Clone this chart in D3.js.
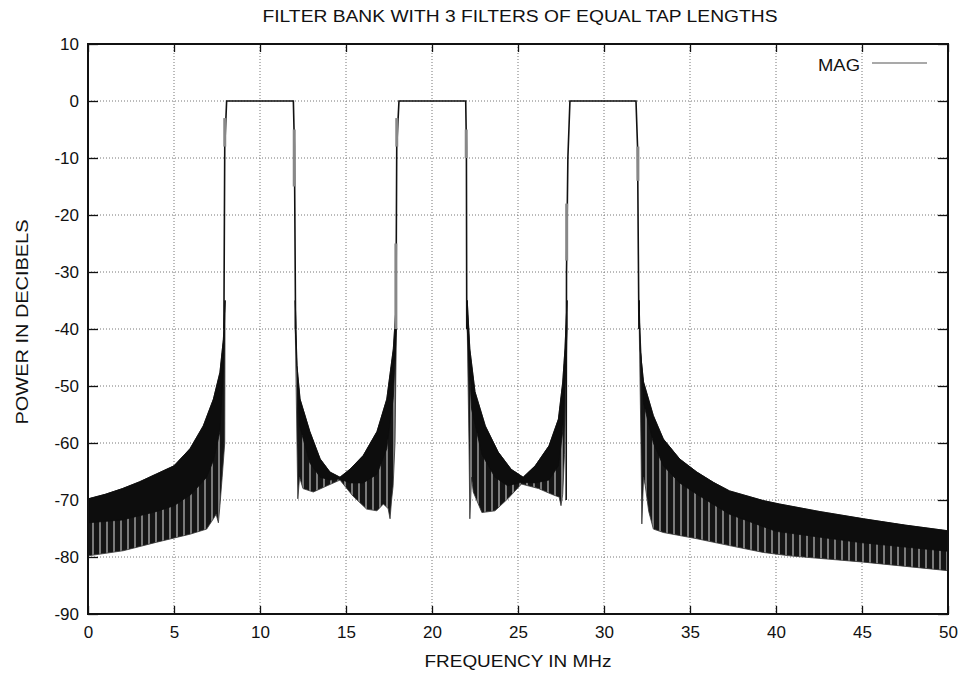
<!DOCTYPE html>
<html>
<head>
<meta charset="utf-8">
<script src="https://cdn.jsdelivr.net/npm/d3@7"></script>
<style>
  body { margin: 0; background: #fff; }
  text { font-family: "Liberation Sans", Arial, sans-serif; fill: #111; }
</style>
</head>
<body>
<div id="chart"></div>
<script>
// axis ticks
var xTicks = [0, 5, 10, 15, 20, 25, 30, 35, 40, 45, 50];
var yTicks = [-90, -80, -70, -60, -50, -40, -30, -20, -10, 0, 10];

// passband of each filter (freq MHz / dB)
var pass1F = [7.9, 7.95, 8.06, 11.94, 12.0, 12.07];
var pass1D = [-40, -8, 0, 0, -8, -40];
var pass2F = [17.9, 17.95, 18.08, 21.96, 22.0, 22.02];
var pass2D = [-40, -8, 0, 0, -8, -40];
var pass3F = [27.8, 27.82, 27.9, 28.02, 31.86, 31.95, 32.03];
var pass3D = [-70, -30, -10, 0, 0, -8, -40];

// blurred (rippling) pieces of the transition edges: freq, top dB, bottom dB
var blurF = [7.95, 11.99, 17.95, 17.9, 21.99, 27.83, 31.97];
var blurTop = [-3, -5, -3, -25, -5, -18, -8];
var blurBot = [-8, -15, -8, -40, -10, -28, -14];

// sidelobe band 1 (0 - 8 MHz): upper envelope, dense core bottom, lower envelope
var up1F = [0, 1, 2, 3, 4, 5, 5.93, 6.7, 7.29, 7.67, 7.87, 7.97];
var up1D = [-69.8, -69, -68, -66.8, -65.4, -64, -61, -57, -52.3, -47.6, -41.8, -35];
var core1F = [0, 2, 4, 5, 6, 6.9, 7.3, 7.67, 7.87, 7.97];
var core1D = [-74, -73.5, -72, -71, -69, -66, -63, -58, -47, -35];
var lo1F = [0, 2.05, 4, 5.93, 6.9, 7.29, 7.45, 7.58, 7.67, 7.8, 7.95, 7.97];
var lo1D = [-79.8, -78.9, -77.4, -76, -75.1, -73.3, -72.5, -74, -71, -66, -60, -35];

// sidelobe band 2 (12 - 18 MHz)
var up2F = [12.05, 12.15, 12.33, 12.9, 13.5, 14.07, 14.65, 15.23, 16.0, 16.8, 17.37, 17.75, 17.93];
var up2D = [-35, -46.4, -52.3, -58, -62.8, -65.1, -66, -64.6, -62.2, -58, -52.3, -43.5, -35];
var core2F = [12.05, 12.3, 12.9, 13.5, 14.07, 14.65, 15.23, 16.0, 16.8, 17.37, 17.75, 17.93];
var core2D = [-40, -57, -63.5, -66, -66.5, -66.3, -67, -67, -65.5, -61, -52, -40];
var lo2F = [12.05, 12.15, 12.2, 12.3, 12.5, 13.1, 13.9, 14.65, 15.4, 16.2, 16.8, 17.17, 17.45, 17.56, 17.65, 17.74, 17.85, 17.93];
var lo2D = [-40, -60, -69.8, -66, -68, -68.6, -67.5, -66.5, -69.3, -71.6, -71.9, -70.7, -71.5, -73.3, -70, -67.5, -60, -40];

// sidelobe band 3 (22 - 28 MHz)
var up3F = [22.05, 22.2, 22.5, 23.1, 23.85, 24.6, 25.3, 26.0, 26.8, 27.35, 27.6, 27.73, 27.85];
var up3D = [-35, -43.5, -51, -57, -61.6, -64.6, -66, -64, -60.5, -55.8, -49.3, -43.5, -35];
var core3F = [22.05, 22.3, 22.9, 23.66, 24.4, 25.2, 26.0, 26.8, 27.35, 27.6, 27.85];
var core3D = [-40, -54, -62, -66, -67.5, -66.9, -67, -66.5, -64, -58, -40];
var lo3F = [22.05, 22.15, 22.2, 22.3, 22.4, 22.9, 23.66, 24.4, 25.2, 26.2, 26.96, 27.4, 27.5, 27.6, 27.7, 27.85];
var lo3D = [-40, -60, -73.3, -66, -68.6, -72.2, -71.9, -69.8, -67.2, -68, -69, -69.5, -71, -69, -62, -40];

// sidelobe band 4 (32 - 50 MHz)
var up4F = [32.05, 32.1, 32.3, 32.87, 33.45, 34.4, 35.4, 36.36, 37.3, 39.26, 40.2, 42.5, 45.1, 47.5, 50];
var up4D = [-35, -43.5, -49.3, -55.2, -59.3, -62.8, -65.1, -66.9, -68.4, -70.1, -70.7, -72, -73.3, -74.4, -75.4];
var core4F = [32.05, 32.3, 32.87, 33.45, 34.4, 35.4, 37.3, 40, 45, 50];
var core4D = [-38, -53, -60, -64, -67, -69, -72.5, -75.5, -77.5, -79];
var lo4F = [32.05, 32.15, 32.2, 32.3, 32.4, 32.6, 32.87, 33.45, 35.4, 37.3, 39.26, 40.8, 45.1, 50];
var lo4D = [-40, -60, -74.2, -66, -67.5, -72, -75.1, -75.7, -76.8, -78, -79.2, -79.8, -80.9, -82.4];

var margin = { top: 44, right: 13, bottom: 59, left: 88 },
  width = 961 - margin.left - margin.right,
  height = 673 - margin.top - margin.bottom;

var svg = d3.select("#chart")
  .append("svg")
  .attr("width", 961)
  .attr("height", 673);

var g = svg.append("g")
  .attr("transform", "translate(" + margin.left + "," + margin.top + ")");

var x = d3.scaleLinear().domain([0, 50]).range([0, width]);
var y = d3.scaleLinear().domain([-90, 10]).range([height, 0]);

// stripe pattern for the sparse lower part of the ripple bands
var defs = svg.append("defs");
var pat = defs.append("pattern")
  .attr("id", "streaks")
  .attr("patternUnits", "userSpaceOnUse")
  .attr("width", 7)
  .attr("height", 8);
pat.append("rect").attr("width", 7).attr("height", 8).attr("fill", "#151515");
pat.append("rect").attr("x", 4).attr("width", 2).attr("height", 8).attr("fill", "#7a7a7a");

defs.append("clipPath").attr("id", "plotclip")
  .append("rect").attr("width", width).attr("height", height);

// grid
g.append("g").selectAll("line")
  .data(xTicks.slice(1, -1))
  .enter().append("line")
  .attr("x1", function(d) { return x(d); })
  .attr("x2", function(d) { return x(d); })
  .attr("y1", 0).attr("y2", height)
  .attr("stroke", "#777").attr("stroke-width", 1)
  .attr("stroke-dasharray", "1,2");

g.append("g").selectAll("line")
  .data(yTicks.slice(1, -1))
  .enter().append("line")
  .attr("y1", function(d) { return y(d); })
  .attr("y2", function(d) { return y(d); })
  .attr("x1", 0).attr("x2", width)
  .attr("stroke", "#777").attr("stroke-width", 1)
  .attr("stroke-dasharray", "1,2");

// axes: ticks pointing inward, labels on bottom / left only
var fmt = function(d) { return String(d); };
var xAxis = g.append("g")
  .attr("transform", "translate(0," + height + ")")
  .call(d3.axisBottom(x).tickValues(xTicks).tickSize(-8).tickPadding(12).tickFormat(fmt));
var yAxis = g.append("g")
  .call(d3.axisLeft(y).tickValues(yTicks).tickSize(-10).tickPadding(9).tickFormat(fmt));
g.append("g")
  .call(d3.axisTop(x).tickValues(xTicks).tickSize(-8).tickFormat(""));
g.append("g")
  .attr("transform", "translate(" + width + ",0)")
  .call(d3.axisRight(y).tickValues(yTicks).tickSize(-10).tickFormat(""));

g.selectAll(".domain").remove();
g.selectAll(".tick line").attr("stroke", "#111").attr("stroke-width", 1.3);
xAxis.selectAll("text").style("font-size", "17px").attr("fill", "#111");
yAxis.selectAll("text").style("font-size", "17px").attr("fill", "#111");

var line = d3.line()
  .x(function(d) { return x(d[0]); })
  .y(function(d) { return y(d[1]); });

function pts(fs, ds) {
  return fs.map(function(f, i) { return [f, ds[i]]; });
}

var bands = [
  [up1F, up1D, core1F, core1D, lo1F, lo1D],
  [up2F, up2D, core2F, core2D, lo2F, lo2D],
  [up3F, up3D, core3F, core3D, lo3F, lo3D],
  [up4F, up4D, core4F, core4D, lo4F, lo4D]
];

var plot = g.append("g").attr("clip-path", "url(#plotclip)");

bands.forEach(function(b) {
  var upper = pts(b[0], b[1]);
  var core = pts(b[2], b[3]).reverse();
  var lower = pts(b[4], b[5]).reverse();
  plot.append("path")
    .attr("d", line(upper.concat(lower)) + "Z")
    .attr("fill", "url(#streaks)")
    .attr("stroke", "#333")
    .attr("stroke-width", 0.8);
  plot.append("path")
    .attr("d", line(upper.concat(core)) + "Z")
    .attr("fill", "#0d0d0d")
    .attr("stroke", "#0d0d0d")
    .attr("stroke-width", 0.8);
});

[[pass1F, pass1D], [pass2F, pass2D], [pass3F, pass3D]].forEach(function(p) {
  plot.append("path")
    .attr("d", line(pts(p[0], p[1])))
    .attr("fill", "none")
    .attr("stroke", "#111")
    .attr("stroke-width", 1.6);
});

plot.selectAll(".blur")
  .data(blurF)
  .enter().append("line")
  .attr("class", "blur")
  .attr("x1", function(d) { return x(d); })
  .attr("x2", function(d) { return x(d); })
  .attr("y1", function(d, i) { return y(blurTop[i]); })
  .attr("y2", function(d, i) { return y(blurBot[i]); })
  .attr("stroke", "#888")
  .attr("stroke-width", 3);

// frame
g.append("rect")
  .attr("width", width).attr("height", height)
  .attr("fill", "none").attr("stroke", "#111").attr("stroke-width", 2);

// legend
g.append("text")
  .attr("x", 772).attr("y", 27)
  .attr("text-anchor", "end")
  .attr("textLength", 42)
  .attr("lengthAdjust", "spacingAndGlyphs")
  .style("font-size", "16px")
  .text("MAG");
g.append("line")
  .attr("x1", 784).attr("x2", 839)
  .attr("y1", 19).attr("y2", 19)
  .attr("stroke", "#555").attr("stroke-width", 1.2);

// title and axis labels
svg.append("text")
  .attr("x", 520).attr("y", 22)
  .attr("text-anchor", "middle")
  .attr("textLength", 515)
  .attr("lengthAdjust", "spacingAndGlyphs")
  .style("font-size", "16px")
  .text("FILTER BANK WITH 3 FILTERS OF EQUAL TAP LENGTHS");

svg.append("text")
  .attr("x", 518).attr("y", 667)
  .attr("text-anchor", "middle")
  .attr("textLength", 187)
  .attr("lengthAdjust", "spacingAndGlyphs")
  .style("font-size", "16px")
  .text("FREQUENCY IN MHz");

svg.append("text")
  .attr("transform", "translate(28,322) rotate(-90)")
  .attr("text-anchor", "middle")
  .attr("textLength", 205)
  .attr("lengthAdjust", "spacingAndGlyphs")
  .style("font-size", "16px")
  .text("POWER IN DECIBELS");
</script>
</body>
</html>
